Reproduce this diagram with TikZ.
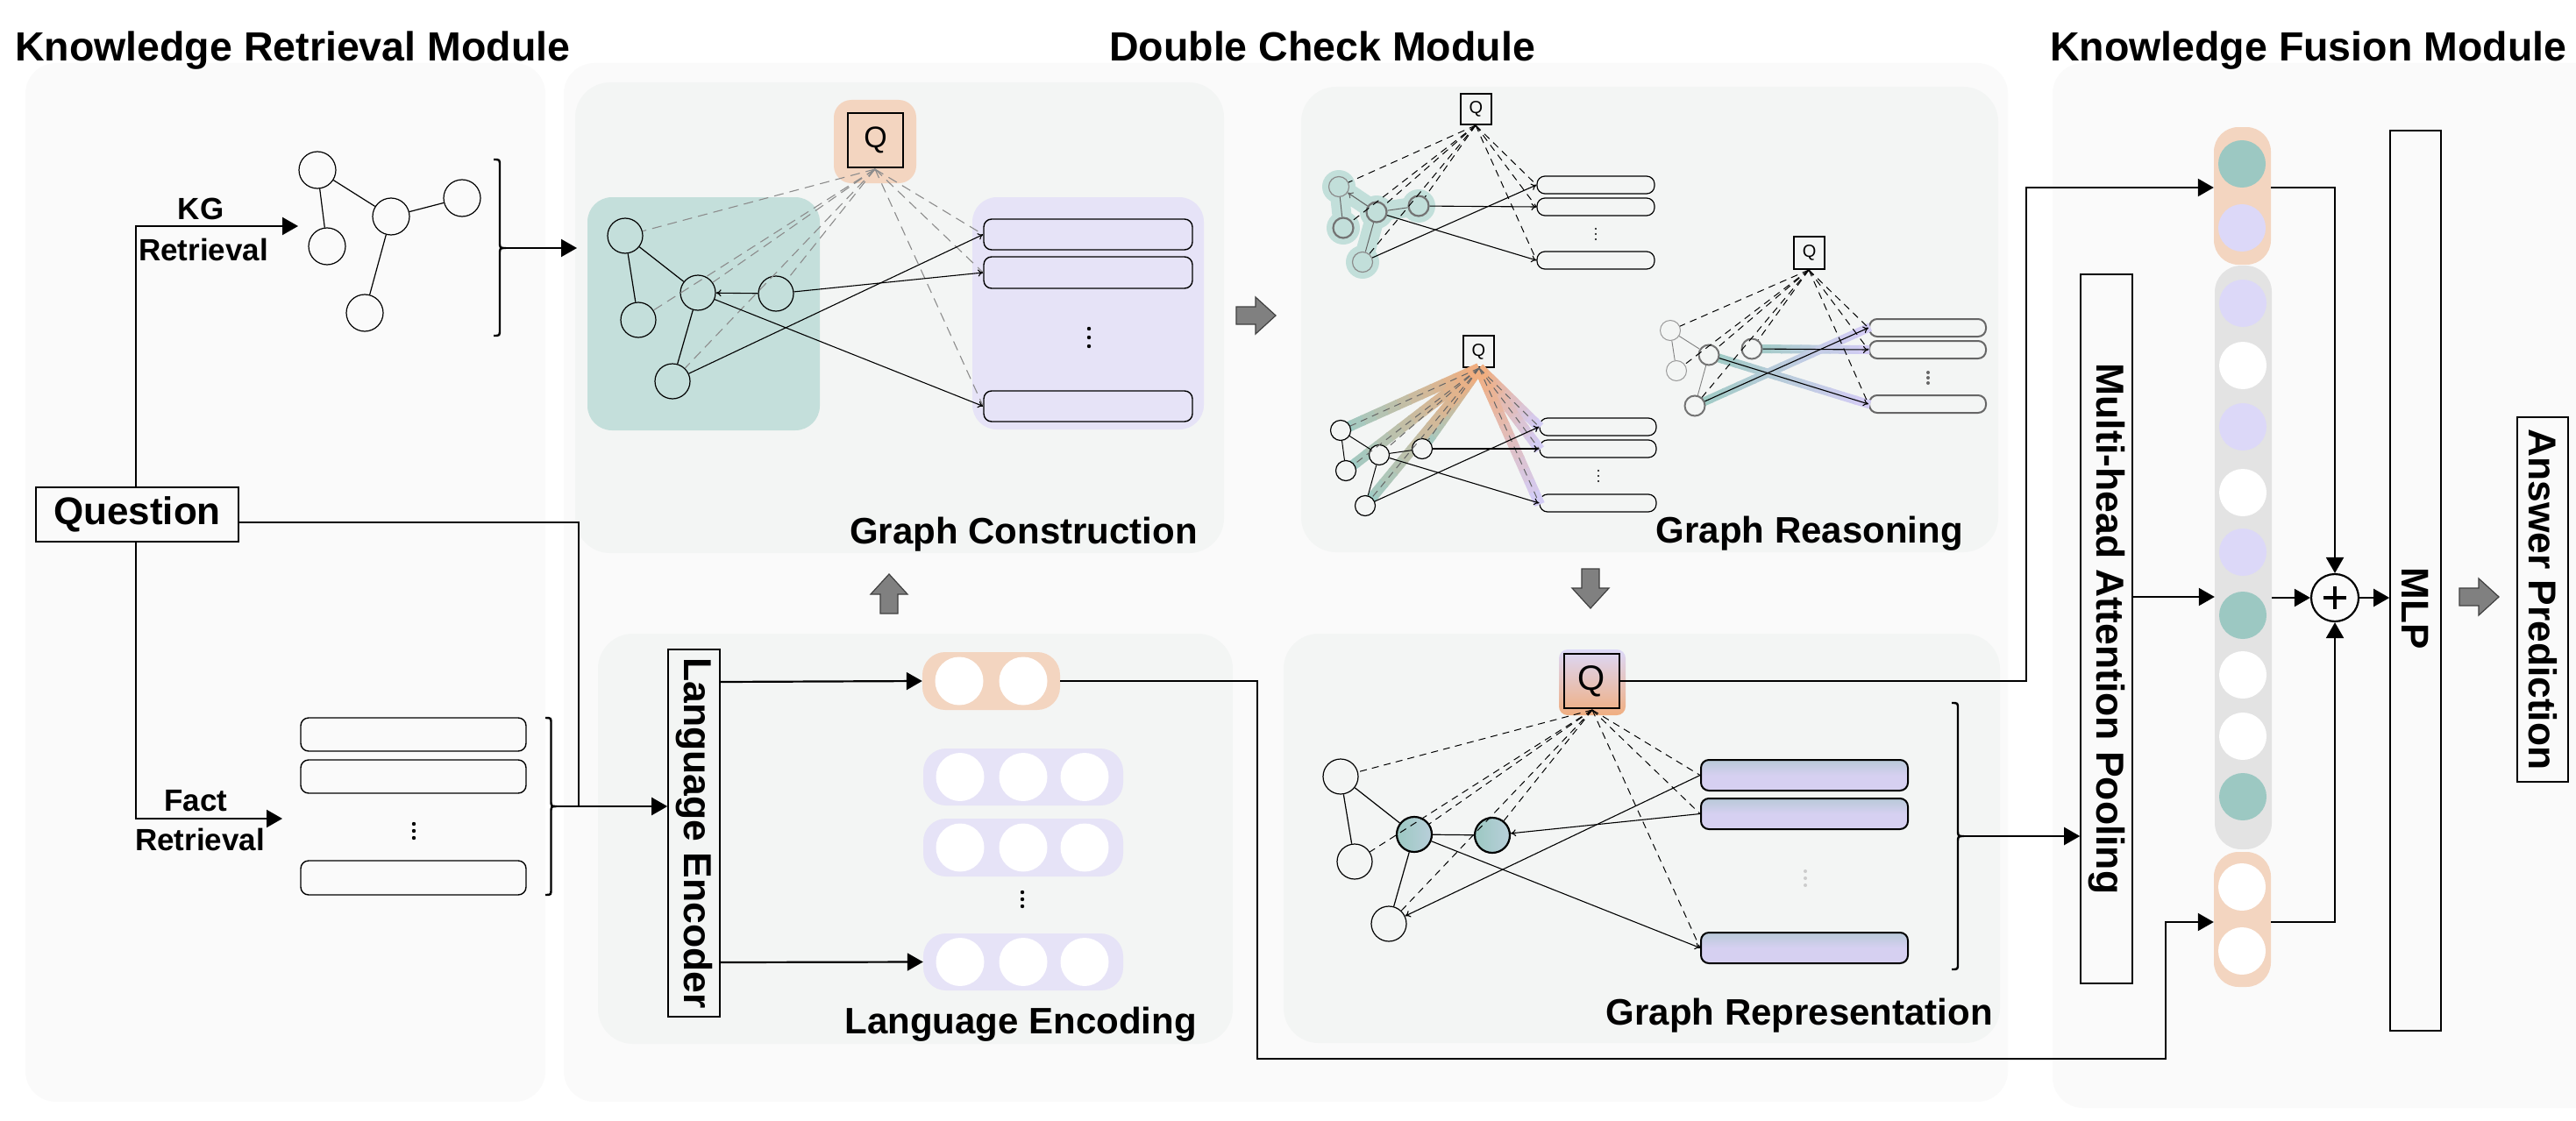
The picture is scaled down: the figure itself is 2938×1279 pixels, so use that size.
\documentclass[tikz,border=0pt]{standalone}
\usepackage{fontspec}
\setmainfont{Liberation Sans}
\usetikzlibrary{arrows.meta,calc}
\definecolor{panelbg}{HTML}{FAFAFA}
\definecolor{subbg}{HTML}{F3F5F4}
\definecolor{greenreg}{HTML}{C4DFDB}
\definecolor{purplereg}{HTML}{E6E3F7}
\definecolor{orangebg}{HTML}{F3D5C0}
\definecolor{gfill}{HTML}{9CC8C2}
\definecolor{pfill}{HTML}{DCD8F8}
\definecolor{colgray}{HTML}{E3E3E3}
\definecolor{hlgreen}{HTML}{9FCBC4}
\definecolor{hlorange}{HTML}{F0AE80}
\definecolor{hlpurple}{HTML}{D3CCF4}
\definecolor{halo}{HTML}{C2DFDA}
\definecolor{arrgray}{HTML}{808080}
\definecolor{boxtop}{HTML}{B8C9D8}
\definecolor{boxlav}{HTML}{D6D0F1}
\newcommand{\fs}[1]{\fontsize{#1}{#1}\selectfont}
\newcommand{\gradline}[5]{%
  \foreach \k in {0,...,11}{%
    \pgfmathsetmacro\ta{\k/12}%
    \pgfmathsetmacro\tb{(\k+1)/12+0.01}%
    \pgfmathtruncatemacro\pc{100-\k*100/11}%
    \draw[line width=#5, draw=#3!\pc!#4] ($(#1)!\ta!(#2)$) -- ($(#1)!\tb!(#2)$);
  }}
\newcommand{\tridots}[5]{%
  \foreach \j in {-1,0,1}{\fill[#5] (#1,#2+\j*#3) circle[radius=#4pt];}}
\newcommand{\blockarrow}[3]{%
  \begin{scope}[shift={(#1,#2)}, rotate=#3]
  \filldraw[fill=arrgray, draw=black!75, line width=1.2pt] (-22,-10) -- (0,-10) -- (0,-21) -- (23,0) -- (0,21) -- (0,10) -- (-22,10) -- cycle;
  \end{scope}}
\begin{document}
\begin{tikzpicture}[x=1pt,y=-1pt,
  conn/.style={line width=2.2pt, draw=black},
  arr/.style={conn, -{Triangle[length=18pt,width=20pt]}},
  thinl/.style={line width=1.2pt},
  sarr/.style={line width=1.1pt, -{To[length=6pt,width=8pt]}},
  gdash/.style={line width=1.1pt, dash pattern=on 11pt off 7pt, draw=black!45},
  bdash/.style={line width=1pt, dash pattern=on 8pt off 6pt, draw=black},
  vnode/.style={circle, draw, line width=1.2pt, inner sep=0pt, minimum size=#1},
  rbox/.style={draw, rounded corners=9pt, line width=1.4pt, inner sep=0pt},
  sbox/.style={draw, line width=1.6pt, inner sep=0pt},
  ttl/.style={anchor=base west, inner sep=0pt, font=\fs{46.5}\bfseries},
  lbl/.style={anchor=base east, inner sep=0pt, font=\fs{42}\bfseries},
  pill/.style={inner sep=0pt, rounded corners=26pt}
]
\useasboundingbox (0,0) rectangle (2938,1279);
\fill[white] (0,0) rectangle (2938,1279);

% ---------- module panels
\fill[panelbg, rounded corners=35pt] (29,72) rectangle (622,1257);
\fill[panelbg, rounded corners=35pt] (643,72) rectangle (2290,1257);
\fill[panelbg, rounded corners=35pt] (2341,72) rectangle (2990,1264);

\node[ttl] (t1) at (17,70) {Knowledge Retrieval Module};
\node[ttl] (t2) at (1265,70) {Double Check Module};
\node[ttl] (t3) at (2338,70) {Knowledge Fusion Module};

% ---------- sub panels
\fill[subbg, rounded corners=40pt] (656,94) rectangle (1396,631);
\fill[subbg, rounded corners=40pt] (1484,99) rectangle (2279,630);
\fill[subbg, rounded corners=40pt] (682,723) rectangle (1406,1191);
\fill[subbg, rounded corners=40pt] (1464,723) rectangle (2281,1190);

% ================= Knowledge retrieval
\node[sbox, minimum width=231, minimum height=62] (question) at (156.5,587) {\fs{44}\bfseries Question};

\node[vnode=42] (k1) at (362,194) {};
\node[vnode=42] (k2) at (373,281) {};
\node[vnode=42] (k3) at (446,247) {};
\node[vnode=42] (k4) at (527,226) {};
\node[vnode=42] (k5) at (416,357) {};
\draw[thinl] (k1)--(k2) (k1)--(k3) (k3)--(k4) (k3)--(k5);

\coordinate (kgc) at (155,258);
\coordinate (kgtip) at (340,258);
\draw[arr] (question.north -| kgc) -- (kgc) -- (kgtip);
\node[anchor=base, inner sep=0pt, font=\fs{35}\bfseries] (kgl) at (229,250) {KG};
\node[anchor=base west, inner sep=0pt, font=\fs{35}\bfseries] (kgr) at (158,297) {Retrieval};

\coordinate (fc) at (155,934);
\coordinate (ftip) at (322,934);
\draw[arr] (question.south -| fc) -- (fc) -- (ftip);
\node[anchor=base west, inner sep=0pt, font=\fs{35}\bfseries] (fl) at (187,925) {Fact};
\node[anchor=base west, inner sep=0pt, font=\fs{35}\bfseries] (fr) at (154,970) {Retrieval};

\node[rbox, minimum width=257, minimum height=38] (f1) at (471.5,838) {};
\node[rbox, minimum width=257, minimum height=38] (f2) at (471.5,886) {};
\node[rbox, minimum width=257, minimum height=39] (f3) at (471.5,1001.5) {};
\tridots{472}{948}{8}{2.2}{black}

% braces
\draw[line width=2.4pt] (563,182) .. controls (570,182) .. (570,189) -- (570,276) .. controls (570,283) .. (577,283) .. controls (570,283) .. (570,290) -- (570,376) .. controls (570,383) .. (563,383);
\coordinate (kgb) at (577,283);
\draw[arr] (kgb) -- (658,283);
\draw[line width=2.4pt] (622,819) .. controls (628.5,819) .. (628.5,826) -- (628.5,913) .. controls (628.5,920) .. (635,920) .. controls (628.5,920) .. (628.5,927) -- (628.5,1014) .. controls (628.5,1021) .. (622,1021);
\coordinate (fb) at (635,920);
\coordinate (jn) at (660,920);

% ================= Graph construction
\fill[orangebg, rounded corners=20pt] (951,114) rectangle (1045,209);
\fill[greenreg, rounded corners=28pt] (670,225) rectangle (935,491);
\fill[purplereg, rounded corners=28pt] (1109,225) rectangle (1373,490);
\node[draw, line width=1.3pt, minimum width=63, minimum height=62, inner sep=0pt] (qgc) at (998.5,160) {\fs{34}Q};
\coordinate (qgcs) at (998,193);
\node[vnode=40] (gc1) at (713,269) {};
\node[vnode=40] (gc2) at (728,365) {};
\node[vnode=40] (gc3) at (796,334) {};
\node[vnode=40] (gc4) at (885,335) {};
\node[vnode=40] (gc5) at (767,435) {};
\node[rbox, minimum width=238, minimum height=35] (gcb1) at (1241,267.5) {};
\node[rbox, minimum width=238, minimum height=36] (gcb2) at (1241,311) {};
\node[rbox, minimum width=238, minimum height=35] (gcb3) at (1241,463.5) {};
\tridots{1242}{385}{10}{2.2}{black}
\foreach \t in {gc1,gc2,gc3,gc4,gc5} {\draw[gdash] (qgcs) -- (\t);}
\foreach \t in {gcb1,gcb2,gcb3} {\draw[gdash] (qgcs) -- (\t.west);}
\draw[thinl] (gc1)--(gc3) (gc1)--(gc2) (gc3)--(gc5);
\draw[sarr] (gc4)--(gc3);
\draw[sarr] (gc4)--(gcb2.west);
\draw[sarr] (gc5)--(gcb1.west);
\draw[sarr] (gc3)--(gcb3.west);
\node[lbl] (lgc) at (1366,620) {Graph Construction};

% ================= Graph reasoning
% --- sub-graph 1
\draw[halo, line width=22pt, line cap=round, line join=round] (1527,213)--(1570,242)--(1618,235) (1570,242)--(1554,299) (1527,213)--(1532,260);
\foreach \p in {(1527,213),(1532,260),(1570,242),(1618,235),(1554,299)} {\fill[halo] \p circle[radius=19pt];}
\node[draw, line width=1.2pt, minimum width=35, minimum height=35, inner sep=0pt] (q1) at (1683.5,124.5) {\fs{20}Q};
\coordinate (q1s) at (1683,143);
\node[vnode=23, fill=halo, draw=black!45] (g1a) at (1527,213) {};
\node[vnode=23, fill=halo, draw=black!55, line width=2.2pt] (g1b) at (1532,260) {};
\node[vnode=23, fill=halo, draw=black!55, line width=2.2pt] (g1c) at (1570,242) {};
\node[vnode=23, fill=halo, draw=black!55, line width=2.2pt] (g1d) at (1618,235) {};
\node[vnode=23, fill=halo, draw=black!45] (g1e) at (1554,299) {};
\node[rbox, minimum width=134, minimum height=20, line width=1.2pt] (g1b1) at (1820,211) {};
\node[rbox, minimum width=134, minimum height=20, line width=1.2pt] (g1b2) at (1820,236) {};
\node[rbox, minimum width=134, minimum height=20, line width=1.2pt] (g1b3) at (1820,297) {};
\tridots{1820}{267}{6}{1.2}{black}
\foreach \t in {g1a,g1b,g1c,g1d,g1e} {\draw[bdash] (q1s) -- (\t);}
\foreach \t in {g1b1,g1b2,g1b3} {\draw[bdash] (q1s) -- (\t.west);}
\draw[line width=1pt, draw=black!60] (g1a)--(g1b) (g1c)--(g1d) (g1c)--(g1e);
\draw[sarr, draw=black!60] (g1c)--(g1a);
\draw[sarr] (g1d)--(g1b2.west);
\draw[sarr] (g1e)--(g1b1.west);
\draw[sarr] (g1c)--(g1b3.west);

% --- sub-graph 2
\node[draw, line width=1.2pt, minimum width=35, minimum height=36, inner sep=0pt] (q2) at (1686.5,401) {\fs{20}Q};
\coordinate (q2s) at (1687,420);
\coordinate (p2a) at (1529,491);
\coordinate (p2b) at (1535,537);
\coordinate (p2c) at (1573,519);
\coordinate (p2d) at (1622,512);
\coordinate (p2e) at (1557,577);
\node[rbox, minimum width=133, minimum height=20, line width=1.2pt] (g2b1) at (1822.5,487) {};
\node[rbox, minimum width=133, minimum height=20, line width=1.2pt] (g2b2) at (1822.5,512) {};
\node[rbox, minimum width=133, minimum height=20, line width=1.2pt] (g2b3) at (1822.5,574) {};
\gradline{q2s}{p2a}{hlorange}{hlgreen}{12pt}
\gradline{q2s}{p2b}{hlorange}{hlgreen}{12pt}
\gradline{q2s}{p2d}{hlorange}{hlgreen}{12pt}
\gradline{q2s}{p2e}{hlorange}{hlgreen}{12pt}
\gradline{q2s}{g2b1.west}{hlorange}{hlpurple}{12pt}
\gradline{q2s}{g2b2.west}{hlorange}{hlpurple}{12pt}
\gradline{q2s}{g2b3.west}{hlorange}{hlpurple}{12pt}
\node[vnode=23, fill=subbg] (g2a) at (p2a) {};
\node[vnode=23, fill=subbg] (g2b) at (p2b) {};
\node[vnode=23, fill=subbg] (g2c) at (p2c) {};
\node[vnode=23, fill=subbg] (g2d) at (p2d) {};
\node[vnode=23, fill=subbg] (g2e) at (p2e) {};
\tridots{1823}{543}{6}{1.2}{black}
\foreach \t in {g2a,g2b,g2c,g2d,g2e} {\draw[bdash, draw=black!60] (q2s) -- (\t);}
\foreach \t in {g2b1,g2b2,g2b3} {\draw[bdash, draw=black!60] (q2s) -- (\t.west);}
\draw[line width=1pt] (g2a)--(g2b) (g2a)--(g2c) (g2c)--(g2d) (g2c)--(g2e);
\draw[sarr] (g2d)--(g2b2.west);
\draw[sarr] (g2e)--(g2b1.west);
\draw[sarr] (g2c)--(g2b3.west);

% --- sub-graph 3
\node[draw, line width=1.2pt, minimum width=35, minimum height=37, inner sep=0pt] (q3) at (2063.5,288.5) {\fs{20}Q};
\coordinate (q3s) at (2063,308);
\coordinate (p3a) at (1905,377);
\coordinate (p3b) at (1912,423);
\coordinate (p3c) at (1949,405);
\coordinate (p3d) at (1998,398);
\coordinate (p3e) at (1933,463);
\node[rbox, minimum width=133, minimum height=20, line width=2pt, draw=black!60] (g3b1) at (2198.5,374) {};
\node[rbox, minimum width=133, minimum height=20, line width=2pt, draw=black!60] (g3b2) at (2198.5,399) {};
\node[rbox, minimum width=133, minimum height=20, line width=2pt, draw=black!60] (g3b3) at (2198.5,461) {};
\gradline{p3d}{g3b2.west}{hlgreen}{hlpurple}{10pt}
\gradline{p3c}{g3b3.west}{hlgreen}{hlpurple}{10pt}
\gradline{p3e}{g3b1.west}{hlgreen}{hlpurple}{10pt}
\node[vnode=23, fill=subbg, draw=black!40, line width=1pt] (g3a) at (p3a) {};
\node[vnode=23, fill=subbg, draw=black!40, line width=1pt] (g3b) at (p3b) {};
\node[vnode=23, fill=subbg, draw=black!55, line width=2pt] (g3c) at (p3c) {};
\node[vnode=23, fill=subbg, draw=black!55, line width=2pt] (g3d) at (p3d) {};
\node[vnode=23, fill=subbg, draw=black!55, line width=2pt] (g3e) at (p3e) {};
\tridots{2199}{431}{6}{2}{black!60}
\foreach \t in {g3a,g3b,g3c,g3d,g3e} {\draw[bdash] (q3s) -- (\t);}
\foreach \t in {g3b1,g3b2,g3b3} {\draw[bdash] (q3s) -- (\t.west);}
\draw[line width=0.9pt, draw=black!50] (g3a)--(g3b) (g3a)--(g3c) (g3c)--(g3e);
\draw[sarr] (g3d)--(g3b2.west);
\draw[sarr] (g3e)--(g3b1.west);
\draw[sarr] (g3c)--(g3b3.west);
\node[lbl] (lgr) at (2239,619) {Graph Reasoning};

% ================= Language encoding
\node[sbox, minimum width=59, minimum height=419] (le) at (791.5,950.5) {};
\node[rotate=-90, inner sep=0pt, font=\fs{44.5}\bfseries] (let) at (le.center) {Language Encoder};
\node[pill, fill=orangebg, minimum width=157, minimum height=66] (opill) at (1130.5,777) {};
\foreach \xx in {1094,1167} {\fill[white] (\xx,777) circle[radius=27.5pt];}
\node[pill, fill=purplereg, minimum width=228, minimum height=65] (pp1) at (1167,886.5) {};
\node[pill, fill=purplereg, minimum width=228, minimum height=66] (pp2) at (1167,967) {};
\node[pill, fill=purplereg, minimum width=228, minimum height=65] (pp3) at (1167,1097.5) {};
\foreach \yy in {886.5,967,1097.5} {\foreach \xx in {1095,1167,1237} {\fill[white] (\xx,\yy) circle[radius=27.5pt];}}
\tridots{1166}{1026}{8}{2.2}{black}
\draw[arr] (le.east |- 0,778) -- (opill.west);
\draw[arr] (le.east |- 0,1098) -- (pp3.west);
\node[lbl] (lle) at (1365,1179) {Language Encoding};

% question to language encoder
\draw[conn] ([yshift=-9pt]question.east) -- (660,596) -- (jn);
\draw[arr] (fb) -- (le.west |- jn);

% ================= Graph representation
\shade[top color=pfill, middle color=gfill!60!pfill, bottom color=hlorange, rounded corners=10pt] (1778,741) rectangle (1854,816);
\node[draw, line width=1.3pt, minimum width=63, minimum height=62, inner sep=0pt] (qr) at (1815.5,777) {\fs{40}Q};
\coordinate (qrs) at (1816,810);
\node[vnode=40] (ra) at (1529,886) {};
\node[vnode=40] (rb) at (1545,983) {};
\node[vnode=40, left color=gfill, right color=gfill!55!pfill, line width=2.2pt] (rc) at (1613,952) {};
\node[vnode=40, left color=gfill, right color=gfill!55!pfill, line width=2.2pt] (rd) at (1702,953) {};
\node[vnode=40] (re) at (1584,1054) {};
\foreach \nm/\yy in {rb1/884.5,rb2/928.5,rb3/1081.5} {\node[rbox, minimum width=236, minimum height=35, line width=2pt, top color=boxtop, bottom color=boxlav, middle color=boxlav] (\nm) at (2058,\yy) {};}
\tridots{2059}{1002}{8}{2}{black!20}
\foreach \t in {ra,rb,rc,rd,re} {\draw[bdash] (qrs) -- (\t);}
\foreach \t in {rb1,rb2,rb3} {\draw[bdash] (qrs) -- (\t.west);}
\draw[thinl] (ra)--(rb) (ra)--(rc) (rc)--(re) (rc)--(rd);
\draw[sarr] (rb1.west)--(re);
\draw[sarr] (rb2.west)--(rd);
\draw[sarr] (rc)--(rb3.west);
\draw[line width=2.4pt] (2226,802) .. controls (2233,802) .. (2233,809) -- (2233,947) .. controls (2233,954) .. (2240,954) .. controls (2233,954) .. (2233,961) -- (2233,1099) .. controls (2233,1106) .. (2226,1106);
\coordinate (rbr) at (2240,954);
\node[lbl] (lgrep) at (2273,1169) {Graph Representation};

% gray block arrows
\blockarrow{1432}{360}{0}
\blockarrow{1814}{671}{-90}
\blockarrow{1014}{678}{90}
\blockarrow{2827}{681}{0}

% ================= Knowledge fusion
\node[sbox, minimum width=59, minimum height=809] (mh) at (2402.5,717.5) {};
\node[rotate=-90, inner sep=0pt, font=\fs{44.5}\bfseries] (mht) at (mh.center) {Multi-head Attention Pooling};
\node[pill, fill=orangebg, minimum width=65, minimum height=157, rounded corners=28pt] (tpill) at (2557.5,223.5) {};
\fill[gfill] (2557,187) circle[radius=27pt];
\fill[pfill] (2557,260) circle[radius=27pt];
\node[pill, fill=colgray, minimum width=65, minimum height=666, rounded corners=30pt] (col) at (2558.5,636) {};
\foreach \yy/\cc in {346/pfill,417/white,487/pfill,562/white,630/pfill,702/gfill,770/white,840/white,909/gfill} {\fill[\cc] (2558,\yy) circle[radius=27pt];}
\node[pill, fill=orangebg, minimum width=65, minimum height=154, rounded corners=28pt] (bpill) at (2557.5,1049) {};
\fill[white] (2557,1012) circle[radius=27pt];
\fill[white] (2557,1085) circle[radius=27pt];
\node[circle, draw, line width=2.2pt, minimum size=54, inner sep=0pt] (pl) at (2663,682) {};
\draw[line width=3.6pt] (2650,682) -- (2676,682) (2663,669) -- (2663,695);
\node[sbox, minimum width=58, minimum height=1027] (mlp) at (2755,662.5) {};
\node[rotate=-90, inner sep=0pt, font=\fs{44}\bfseries] (mlpt) at (2755,694) {MLP};
\node[sbox, minimum width=58, minimum height=416] (ans) at (2900,684) {};
\node[rotate=-90, inner sep=0pt, font=\fs{44.3}\bfseries] (anst) at (ans.center) {Answer Prediction};

% connectors to fusion
\draw[arr] (qr.east) -- (2311,777) -- (2311,214) -- (tpill.west |- 0,214);
\draw[arr] (opill.east) -- (1434,777) -- (1434,1208) -- (2470,1208) -- (2470,1052) -- (bpill.west |- 0,1052);
\draw[arr] (rbr) -- (mh.west |- rbr);
\draw[arr] (mh.east |- 0,681) -- (col.west |- 0,681);
\draw[arr] (tpill.east |- 0,214) -- (2663,214) -- (pl.north);
\draw[arr] (bpill.east |- 0,1052) -- (2663,1052) -- (pl.south);
\draw[arr] (col.east |- pl.west) -- (pl.west);
\draw[arr] (pl.east) -- (mlp.west |- pl.east);
\end{tikzpicture}
\end{document}
